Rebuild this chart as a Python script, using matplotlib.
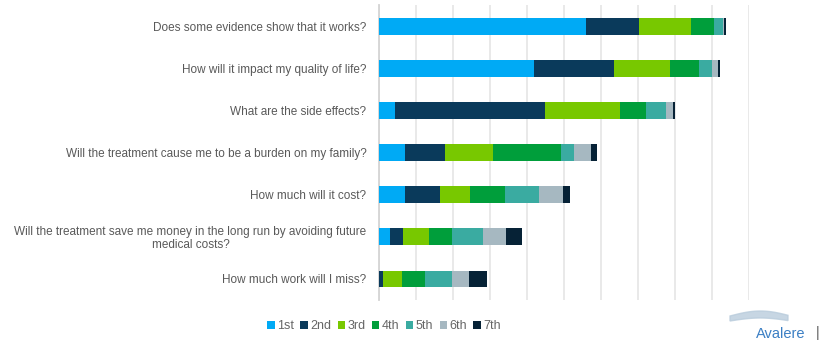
import matplotlib.pyplot as plt
import numpy as np

# Preguntas (de arriba hacia abajo)
questions = [
    "Does some evidence show that it works?",
    "How will it impact my quality of life?",
    "What are the side effects?",
    "Will the treatment cause me to be a burden on my family?",
    "How much will it cost?",
    "Will the treatment save me money in the long run by avoiding future\nmedical costs?",
    "How much work will I miss?",
]
ranks = ["1st", "2nd", "3rd", "4th", "5th", "6th", "7th"]

# Valores por rango, uno por pregunta (mismo orden que questions)
r1st = [55.9, 42.0, 4.2, 7.0, 7.0, 2.9, 0.0]
r2nd = [14.3, 21.5, 40.6, 10.8, 9.5, 3.5, 1.1]
r3rd = [14.1, 15.1, 20.2, 13.0, 8.1, 7.0, 5.1]
r4th = [6.2, 8.0, 7.1, 18.3, 9.5, 6.2, 6.2]
r5th = [2.5, 3.4, 5.4, 3.6, 9.1, 8.6, 7.3]
r6th = [0.3, 1.7, 2.0, 4.5, 6.4, 6.0, 4.5]
r7th = [0.4, 0.4, 0.45, 1.6, 1.9, 4.4, 5.0]

colores = ["#00aaf5", "#0a3a5b", "#78c800", "#009e3b", "#3aaba1", "#a6b8c1", "#062236"]

plt.rcParams['font.family'] = ['Liberation Sans', 'DejaVu Sans']

fig = plt.figure(figsize=(8.31, 3.45), dpi=100)
ax = fig.add_axes([379 / 831, 45 / 345, 370 / 831, 295 / 345])

series = [r1st, r2nd, r3rd, r4th, r5th, r6th, r7th]
y = np.arange(len(questions))
left = np.zeros(len(questions))
for vals, nombre, c in zip(series, ranks, colores):
    vals = np.array(vals)
    ax.barh(y, vals, left=left, height=0.4, color=c, label=nombre, zorder=3)
    left = left + vals

ax.set_xlim(0, 100)
ax.set_ylim(6.5, -0.5)
ax.set_xticks(np.arange(0, 101, 10))
ax.set_xticklabels([])
ax.set_yticks(y)
ax.set_yticklabels(questions, fontsize=8.5, color="#595959", multialignment="center",
                   linespacing=1.05)
ax.tick_params(length=0, pad=9)
ax.grid(axis="x", color="#e3e3e3", linewidth=1.1, zorder=0)

for s in ["top", "right", "bottom"]:
    ax.spines[s].set_visible(False)
ax.spines["left"].set_color("#d4d4d4")
ax.spines["left"].set_linewidth(1.3)

# Leyenda
handles, labels = ax.get_legend_handles_labels()
leg = fig.legend(handles, labels, loc="center", bbox_to_anchor=(384 / 831, 1 - 326 / 345),
                 ncol=7, frameon=False, fontsize=9, handlelength=0.6, handleheight=0.6,
                 handletextpad=0.2, columnspacing=0.5, labelcolor="#666666")

# Logo (aproximado)
t = np.linspace(0, 1, 50)
xs = 730 / 831 + t * 58 / 831
fig.patches.append(plt.Polygon(
    np.column_stack([np.concatenate([xs, xs[::-1]]),
                     np.concatenate([1 - (316 - 5 * np.sin(t * 3)) / 345,
                                     (1 - (321 - 3 * np.sin(t * 3)) / 345)[::-1]])]),
    closed=True, transform=fig.transFigure, color="#b9ccdc", alpha=0.8))
fig.text(756 / 831, 1 - 334 / 345, "Avalere", fontsize=10.5, color="#3b7fc4", va="center")
fig.text(816 / 831, 1 - 333 / 345, "|", fontsize=10, color="#595959", va="center")

fig.savefig("out.png", dpi=100)
